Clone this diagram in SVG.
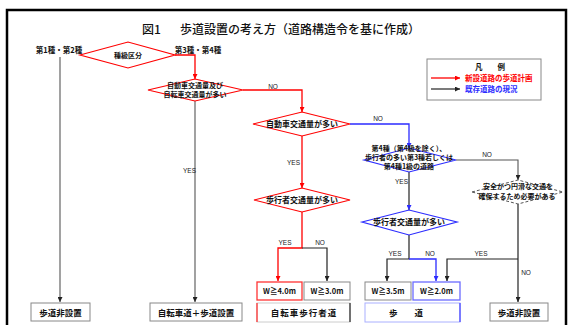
<svg xmlns="http://www.w3.org/2000/svg" width="575" height="325" viewBox="0 0 575 325">
<defs>
<style>
.t{font-family:"Noto Sans CJK JP","Noto Sans",sans-serif;font-weight:bold;fill:#111}
.s7{font-size:7.5px}
.s8{font-size:8px}
.s85{font-size:8.5px}
.lbl{font-family:"Liberation Sans",sans-serif;font-size:6.5px;fill:#222}
.dr{fill:#fff;stroke:#f00;stroke-width:1.2}
.db{fill:#fff;stroke:#2b2bff;stroke-width:1.2}
.dg{fill:#fff;stroke:#555;stroke-width:1;stroke-dasharray:3 2}
.cg{fill:none;stroke:#555;stroke-width:1.1}
.ck{fill:none;stroke:#222;stroke-width:1.2}
.cr{fill:none;stroke:#f00;stroke-width:1.3}
.cb{fill:none;stroke:#2b2bff;stroke-width:1.3}
.box{fill:#fff;stroke:#888;stroke-width:1}
</style>
<marker id="ak" viewBox="0 0 6 6" refX="6" refY="3" markerWidth="5" markerHeight="5" markerUnits="userSpaceOnUse" orient="auto"><path d="M0,0L6,3L0,6z" fill="#222"/></marker>
<marker id="ar" viewBox="0 0 6 6" refX="6" refY="3" markerWidth="5" markerHeight="5" markerUnits="userSpaceOnUse" orient="auto"><path d="M0,0L6,3L0,6z" fill="#f00"/></marker>
<marker id="ab" viewBox="0 0 6 6" refX="6" refY="3" markerWidth="5" markerHeight="5" markerUnits="userSpaceOnUse" orient="auto"><path d="M0,0L6,3L0,6z" fill="#2b2bff"/></marker>
</defs>
<rect width="575" height="325" fill="#fff"/>
<rect x="7" y="10" width="559" height="330" fill="none" stroke="#000" stroke-width="2.5"/>
<text class="t" x="142" y="34" font-size="12" style="font-weight:500">図1<tspan x="180">歩道設置の考え方（道路構造令を基に作成）</tspan></text>

<g id="legend">
<rect x="427" y="59" width="114" height="41" fill="#fff" stroke="#888"/>
<text class="t s7" x="490" y="70" text-anchor="middle">凡　　例</text>
<line x1="431" y1="78" x2="460" y2="78" class="cr" marker-end="url(#ar)"/>
<text class="t s7" x="465" y="81" style="fill:#f00">新設道路の歩道計画</text>
<line x1="431" y1="89" x2="460" y2="89" class="ck" marker-end="url(#ak)"/>
<text class="t s7" x="465" y="92" style="fill:#2b2bff">既存道路の現況</text>
</g>

<g id="connectors">
<line x1="60" y1="57" x2="60" y2="302" class="cg" marker-end="url(#ak)"/>
<polyline points="175,55 195,55 195,79" class="cr" marker-end="url(#ar)"/>
<line x1="195" y1="101" x2="195" y2="302" class="cg" marker-end="url(#ak)"/>
<polyline points="243,90 302,90 302,112" class="cr" marker-end="url(#ar)"/>
<line x1="302" y1="136" x2="302" y2="188" class="cr" marker-end="url(#ar)"/>
<polyline points="302,212 302,248 278,248 278,281" class="cr" marker-end="url(#ar)"/>
<polyline points="302,248 327,248 327,281" class="ck" marker-end="url(#ak)"/>
<polyline points="350,124 409,124 409,148" class="cb" marker-end="url(#ab)"/>
<polyline points="456,160 518,160 518,180" class="cg" marker-end="url(#ak)"/>
<line x1="409" y1="172" x2="409" y2="210" class="ck" marker-end="url(#ab)"/>
<polyline points="409,235 409,259 387,259 387,281" class="ck" marker-end="url(#ak)"/>
<polyline points="409,259 436,259 436,281" class="cb" marker-end="url(#ab)"/>
<line x1="518" y1="204" x2="518" y2="302" class="ck" marker-end="url(#ak)"/>
<polyline points="518,259 447,259 447,281" class="ck" marker-end="url(#ak)"/>
<text class="lbl" x="196" y="173" text-anchor="end">YES</text>
<text class="lbl" x="273" y="89" text-anchor="middle">NO</text>
<text class="lbl" x="378" y="121" text-anchor="middle">NO</text>
<text class="lbl" x="300" y="165" text-anchor="end">YES</text>
<text class="lbl" x="408" y="184" text-anchor="end">YES</text>
<text class="lbl" x="487" y="157" text-anchor="middle">NO</text>
<text class="lbl" x="285" y="245" text-anchor="middle">YES</text>
<text class="lbl" x="320" y="245" text-anchor="middle">NO</text>
<text class="lbl" x="395" y="256" text-anchor="middle">YES</text>
<text class="lbl" x="430" y="256" text-anchor="middle">NO</text>
<text class="lbl" x="481" y="256" text-anchor="middle">YES</text>
<text class="lbl" x="526" y="275" text-anchor="middle">NO</text>
</g>

<g id="n-label12"><text class="t s7" x="59" y="53" text-anchor="middle">第1種・第2種</text></g>
<g id="n-label34"><text class="t s7" x="198" y="53" text-anchor="middle">第3種・第4種</text></g>

<g id="d1">
<polygon points="80,55 128,42 175,55 128,68" class="dr"/>
<text class="t" font-size="7" x="128" y="57.5" text-anchor="middle">種級区分</text>
</g>
<g id="d2">
<polygon points="148,90 195,79 243,90 195,101" class="dr"/>
<text class="t" font-size="7" x="195" y="87.5" text-anchor="middle">自動車交通量及び</text>
<text class="t" font-size="7" x="195" y="96.5" text-anchor="middle">自転車交通量が多い</text>
</g>
<g id="d3">
<polygon points="253,124 302,112 350,124 302,136" class="dr"/>
<text class="t s8" x="302" y="127" text-anchor="middle">自動車交通量が多い</text>
</g>
<g id="d7">
<polygon points="254,200 302,188 350,200 302,212" class="dr"/>
<text class="t s8" x="302" y="203" text-anchor="middle">歩行者交通量が多い</text>
</g>
<g id="d4">
<polygon points="364,160 409,148 456,160 409,172" class="db"/>
<text class="t" font-size="7" x="409" y="151" text-anchor="middle">第4種（第4級を除く）、</text>
<text class="t" font-size="7" x="409" y="160" text-anchor="middle">歩行者の多い第3種若しくは</text>
<text class="t" font-size="7" x="409" y="169" text-anchor="middle">第4種1級の道路</text>
</g>
<g id="d6">
<polygon points="362,222 409,210 457,222 409,235" class="db"/>
<text class="t s8" x="409" y="225" text-anchor="middle">歩行者交通量が多い</text>
</g>
<g id="d5">
<polygon points="472,192 518,180 563,192 518,204" class="dg"/>
<text class="t" font-size="7" x="518" y="189" text-anchor="middle">安全かつ円滑な交通を</text>
<text class="t" font-size="7" x="517" y="198.5" text-anchor="middle">確保するため必要がある</text>
</g>

<g id="b-w40">
<rect x="257" y="282" width="45" height="18" fill="#fff" stroke="#f33" stroke-width="1.3"/>
<text class="t s7" x="279.5" y="294" text-anchor="middle">W≧4.0m</text>
</g>
<g id="b-w30">
<rect x="304" y="282" width="46" height="18" class="box"/>
<text class="t s7" x="327" y="294" text-anchor="middle">W≧3.0m</text>
</g>
<g id="b-w35">
<rect x="365" y="282" width="46" height="18" class="box"/>
<text class="t s7" x="388" y="294" text-anchor="middle">W≧3.5m</text>
</g>
<g id="b-w20">
<rect x="413" y="282" width="47" height="18" fill="#fff" stroke="#6b6bff" stroke-width="1.3"/>
<text class="t s7" x="436.5" y="294" text-anchor="middle">W≧2.0m</text>
</g>

<g id="b-none1">
<rect x="31" y="303" width="59" height="18" class="box"/>
<text class="t s85" x="60.5" y="315.5" text-anchor="middle">歩道非設置</text>
</g>
<g id="b-cycle">
<rect x="150" y="303" width="92" height="18" class="box"/>
<text class="t s85" x="196" y="315.5" text-anchor="middle">自転車道＋歩道設置</text>
</g>
<g id="b-cycleped">
<rect x="257" y="303" width="93" height="19" fill="#fff" stroke="#ccc"/>
<line x1="257" y1="303" x2="257" y2="322" stroke="#f33" stroke-width="1.3"/>
<line x1="350" y1="303" x2="350" y2="322" stroke="#333" stroke-width="1.3"/>
<text class="t s85" x="304" y="316" text-anchor="middle" letter-spacing="1">自転車歩行者道</text>
</g>
<g id="b-walk">
<rect x="365" y="303" width="95" height="19" fill="#fff" stroke="#aab0ff"/>
<line x1="460" y1="303" x2="460" y2="322" stroke="#4a4aff" stroke-width="1.3"/>
<text class="t s85" x="406" y="316" text-anchor="middle">歩　　道</text>
</g>
<g id="b-none2">
<rect x="490" y="303" width="58" height="18" class="box"/>
<text class="t s85" x="519" y="315.5" text-anchor="middle">歩道非設置</text>
</g>
</svg>
